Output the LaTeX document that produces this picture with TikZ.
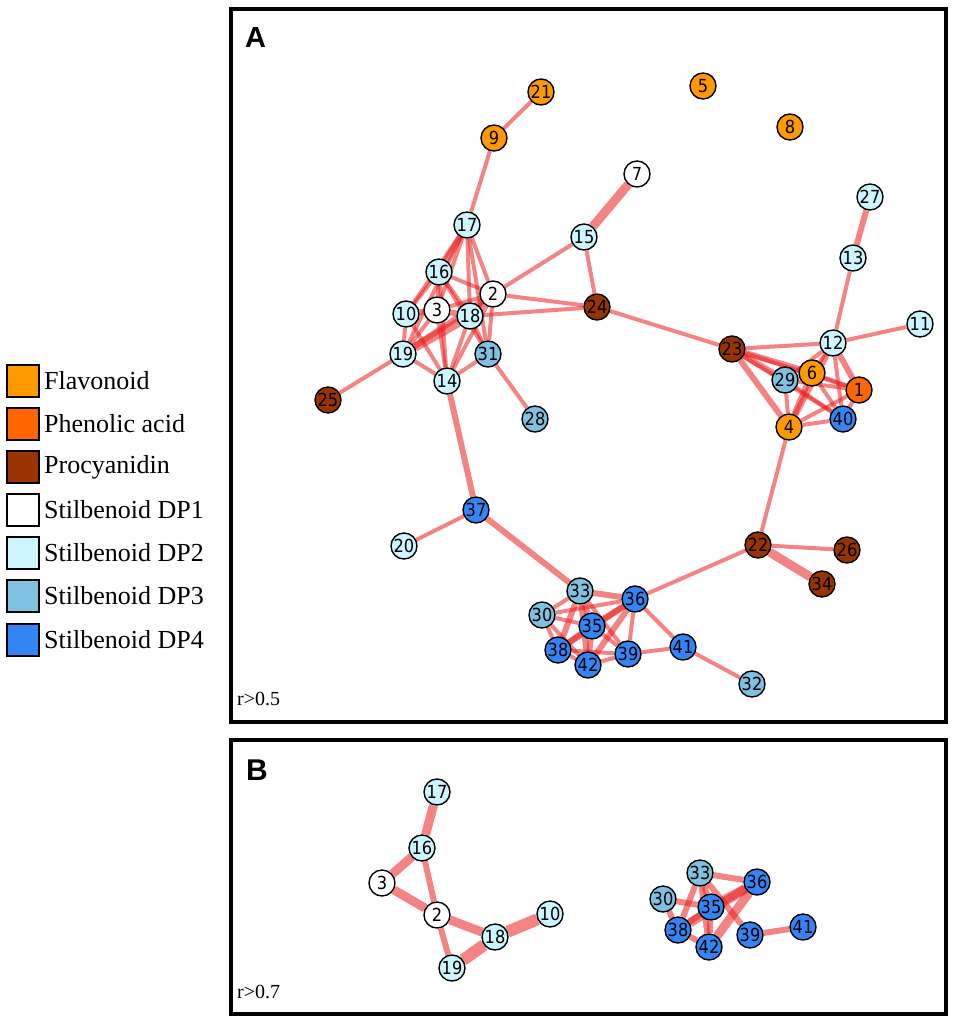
\documentclass[tikz,border=0pt]{standalone}
\usepackage{fontspec}
\setmainfont{Liberation Serif}
\newfontfamily\numfont{DejaVu Sans Condensed}
\newfontfamily\panelfont{Liberation Sans}
\usepackage{tikz}
\usetikzlibrary{calc}
\definecolor{flavcol}{HTML}{FF9900}
\definecolor{phencol}{HTML}{FF6600}
\definecolor{procol}{HTML}{993300}
\definecolor{dptwo}{HTML}{CCF5FF}
\definecolor{dpthree}{HTML}{80C0E0}
\definecolor{dpfour}{HTML}{3385F5}
\definecolor{linkcol}{RGB}{235,30,30}
\pgfdeclarelayer{back}
\pgfsetlayers{back,main}

\begin{document}
\begin{tikzpicture}[x=1pt,y=-1pt,
  cpd/.style={circle,draw=black,line width=1.4pt,minimum size=26pt,inner sep=0pt,
    font=\numfont\fontsize{18}{18}\selectfont},
  flav/.style={cpd,fill=flavcol},
  phen/.style={cpd,fill=phencol},
  proc/.style={cpd,fill=procol},
  one/.style={cpd,fill=white},
  two/.style={cpd,fill=dptwo},
  three/.style={cpd,fill=dpthree},
  four/.style={cpd,fill=dpfour},
  link/.style={draw=linkcol,opacity=0.55,line width=4pt},
  midlink/.style={link,line width=6pt},
  fatlink/.style={link,line width=9pt},
  keybox/.style={draw=black,line width=1.4pt,minimum size=32pt,inner sep=0pt},
  keytext/.style={anchor=west,inner sep=0pt,font=\fontsize{26}{26}\selectfont}]
  \useasboundingbox (0,0) rectangle (957,1020);

  % legend
  \node [keybox,fill=flavcol] (kflav) at (23,381) {};
  \node [keybox,fill=phencol] (kphen) at (23,424) {};
  \node [keybox,fill=procol] (kproc) at (23,467) {};
  \node [keybox,fill=white] (kone) at (23,510) {};
  \node [keybox,fill=dptwo] (ktwo) at (23,553) {};
  \node [keybox,fill=dpthree] (kthree) at (23,596) {};
  \node [keybox,fill=dpfour] (kfour) at (23,640) {};
  \node [keytext] (tflav) at (44,381) {Flavonoid};
  \node [keytext] (tphen) at (44,424) {Phenolic acid};
  \node [keytext] (tproc) at (44,467) {Procyanidin};
  \node [keytext] (tone) at (44,510) {Stilbenoid DP1};
  \node [keytext] (ttwo) at (44,553) {Stilbenoid DP2};
  \node [keytext] (tthree) at (44,596) {Stilbenoid DP3};
  \node [keytext] (tfour) at (44,640) {Stilbenoid DP4};

  % panels
  \draw [line width=4pt] (231,9) rectangle (946,722);
  \draw [line width=4pt] (231,740) rectangle (946,1014);
  \node [anchor=west,inner sep=0pt,font=\panelfont\bfseries\fontsize{29}{29}\selectfont] (pa) at (245,38) {A};
  \node [anchor=west,inner sep=0pt,font=\panelfont\bfseries\fontsize{30}{30}\selectfont] (pb) at (246,770) {B};
  \node [anchor=west,inner sep=0pt,font=\fontsize{20}{20}\selectfont] (ra) at (237,699) {r>0.5};
  \node [anchor=west,inner sep=0pt,font=\fontsize{20}{20}\selectfont] (rb) at (237,992) {r>0.7};

  % panel A
  \node [flav] (a21) at (541,92) {21};
  \node [flav] (a5) at (703,86) {5};
  \node [flav] (a9) at (494,138) {9};
  \node [flav] (a8) at (790,127) {8};
  \node [one] (a7) at (637,174) {7};
  \node [two] (a27) at (870,197) {27};
  \node [two] (a17) at (467,225) {17};
  \node [two] (a15) at (584,237) {15};
  \node [two] (a13) at (853,258) {13};
  \node [two] (a16) at (439,272) {16};
  \node [one] (a2) at (493,294) {2};
  \node [one] (a3) at (437,310) {3};
  \node [two] (a10) at (406,314) {10};
  \node [two] (a18) at (470,316) {18};
  \node [proc] (a24) at (597,307) {24};
  \node [two] (a11) at (920,324) {11};
  \node [two] (a12) at (833,343) {12};
  \node [proc] (a23) at (732,349) {23};
  \node [two] (a19) at (403,354) {19};
  \node [three] (a31) at (488,354) {31};
  \node [flav] (a6) at (812,373) {6};
  \node [three] (a29) at (785,380) {29};
  \node [phen] (a1) at (859,390) {1};
  \node [two] (a14) at (447,381) {14};
  \node [proc] (a25) at (328,400) {25};
  \node [three] (a28) at (535,419) {28};
  \node [four] (a40) at (843,419) {40};
  \node [flav] (a4) at (789,427) {4};
  \node [four] (a37) at (476,510) {37};
  \node [two] (a20) at (404,546) {20};
  \node [proc] (a22) at (758,545) {22};
  \node [proc] (a26) at (847,550) {26};
  \node [proc] (a34) at (822,584) {34};
  \node [three] (a33) at (580,591) {33};
  \node [four] (a36) at (635,599) {36};
  \node [three] (a30) at (542,615) {30};
  \node [four] (a35) at (592,626) {35};
  \node [four] (a38) at (558,650) {38};
  \node [four] (a42) at (588,665) {42};
  \node [four] (a39) at (628,654) {39};
  \node [four] (a41) at (683,647) {41};
  \node [three] (a32) at (752,684) {32};

  % panel B
  \node [two] (b17) at (437,792) {17};
  \node [two] (b16) at (422,848) {16};
  \node [one] (b3) at (382,883) {3};
  \node [one] (b2) at (437,915) {2};
  \node [two] (b10) at (550,914) {10};
  \node [two] (b18) at (495,937) {18};
  \node [two] (b19) at (452,968) {19};
  \node [three] (b33) at (700,873) {33};
  \node [four] (b36) at (757,882) {36};
  \node [three] (b30) at (663,899) {30};
  \node [four] (b35) at (711,907) {35};
  \node [four] (b38) at (678,930) {38};
  \node [four] (b42) at (709,947) {42};
  \node [four] (b39) at (750,935) {39};
  \node [four] (b41) at (803,927) {41};

  \begin{pgfonlayer}{back}
    \draw [link] (a21) -- (a9);
    \draw [link] (a9) -- (a17);
    \draw [fatlink] (a7) -- (a15);
    \draw [link] (a15) -- (a2);
    \draw [link] (a15) -- (a24);
    \draw [midlink] (a17) -- (a16);
    \draw [link] (a17) -- (a10);
    \draw [link] (a17) -- (a3);
    \draw [link] (a17) -- (a18);
    \draw [link] (a17) -- (a2);
    \draw [link] (a17) -- (a31);
    \draw [link] (a17) -- (a19);
    \draw [link] (a16) -- (a2);
    \draw [link] (a16) -- (a18);
    \draw [link] (a16) -- (a3);
    \draw [link] (a16) -- (a14);
    \draw [link] (a16) -- (a31);
    \draw [link] (a16) -- (a10);
    \draw [link] (a2) -- (a24);
    \draw [midlink] (a2) -- (a18);
    \draw [link] (a2) -- (a3);
    \draw [midlink] (a2) -- (a19);
    \draw [link] (a2) -- (a14);
    \draw [link] (a2) -- (a31);
    \draw [midlink] (a3) -- (a18);
    \draw [midlink] (a3) -- (a10);
    \draw [link] (a3) -- (a19);
    \draw [link] (a3) -- (a14);
    \draw [link] (a10) -- (a19);
    \draw [link] (a10) -- (a14);
    \draw [fatlink] (a18) -- (a19);
    \draw [link] (a18) -- (a14);
    \draw [link] (a18) -- (a24);
    \draw [link] (a18) -- (a31);
    \draw [link] (a19) -- (a14);
    \draw [link] (a19) -- (a25);
    \draw [link] (a31) -- (a14);
    \draw [link] (a31) -- (a28);
    \draw [midlink] (a14) -- (a37);
    \draw [link] (a24) -- (a23);
    \draw [link] (a23) -- (a12);
    \draw [midlink] (a23) -- (a6);
    \draw [midlink] (a23) -- (a29);
    \draw [link] (a23) -- (a1);
    \draw [link] (a23) -- (a40);
    \draw [midlink] (a23) -- (a4);
    \draw [link] (a12) -- (a13);
    \draw [midlink] (a13) -- (a27);
    \draw [link] (a12) -- (a11);
    \draw [link] (a12) -- (a6);
    \draw [link] (a12) -- (a29);
    \draw [midlink] (a12) -- (a1);
    \draw [link] (a12) -- (a40);
    \draw [midlink] (a12) -- (a4);
    \draw [link] (a6) -- (a29);
    \draw [link] (a6) -- (a1);
    \draw [midlink] (a6) -- (a4);
    \draw [link] (a6) -- (a40);
    \draw [link] (a29) -- (a4);
    \draw [link] (a29) -- (a1);
    \draw [link] (a29) -- (a40);
    \draw [link] (a1) -- (a40);
    \draw [link] (a1) -- (a4);
    \draw [link] (a4) -- (a40);
    \draw [link] (a4) -- (a22);
    \draw [link] (a22) -- (a26);
    \draw [fatlink] (a22) -- (a34);
    \draw [link] (a22) -- (a36);
    \draw [link] (a37) -- (a20);
    \draw [midlink] (a37) -- (a33);
    \draw [midlink] (a33) -- (a36);
    \draw [link] (a33) -- (a30);
    \draw [midlink] (a33) -- (a35);
    \draw [midlink] (a33) -- (a38);
    \draw [midlink] (a33) -- (a42);
    \draw [link] (a33) -- (a39);
    \draw [midlink] (a36) -- (a35);
    \draw [midlink] (a36) -- (a38);
    \draw [midlink] (a36) -- (a42);
    \draw [link] (a36) -- (a39);
    \draw [link] (a36) -- (a41);
    \draw [link] (a36) -- (a30);
    \draw [link] (a30) -- (a35);
    \draw [link] (a30) -- (a38);
    \draw [link] (a30) -- (a42);
    \draw [midlink] (a35) -- (a38);
    \draw [midlink] (a35) -- (a42);
    \draw [link] (a35) -- (a39);
    \draw [link] (a38) -- (a42);
    \draw [link] (a38) -- (a39);
    \draw [link] (a42) -- (a39);
    \draw [link] (a39) -- (a41);
    \draw [link] (a41) -- (a32);

    \draw [fatlink] (b17) -- (b16);
    \draw [fatlink] (b16) -- (b3);
    \draw [midlink] (b16) -- (b2);
    \draw [fatlink] (b3) -- (b2);
    \draw [fatlink] (b2) -- (b18);
    \draw [midlink] (b2) -- (b19);
    \draw [link,line width=12pt] (b19) -- (b18);
    \draw [link,line width=12pt] (b18) -- (b10);
    \draw [midlink] (b33) -- (b36);
    \draw [midlink] (b33) -- (b35);
    \draw [midlink] (b33) -- (b38);
    \draw [midlink] (b33) -- (b42);
    \draw [midlink] (b33) -- (b39);
    \draw [midlink] (b30) -- (b35);
    \draw [midlink] (b30) -- (b38);
    \draw [fatlink] (b36) -- (b35);
    \draw [fatlink] (b36) -- (b38);
    \draw [fatlink] (b36) -- (b42);
    \draw [midlink] (b35) -- (b38);
    \draw [midlink] (b35) -- (b42);
    \draw [midlink] (b38) -- (b42);
    \draw [midlink] (b39) -- (b41);
  \end{pgfonlayer}
\end{tikzpicture}
\end{document}
